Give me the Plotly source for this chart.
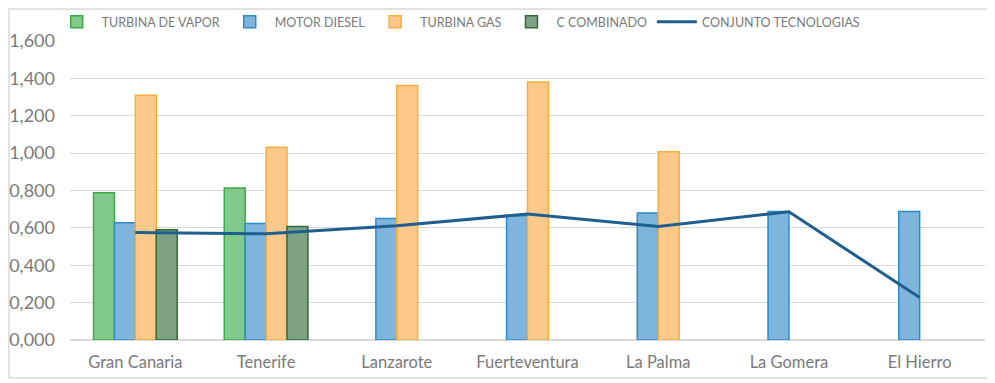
import plotly.graph_objects as go

islands = ["Gran Canaria", "Tenerife", "Lanzarote", "Fuerteventura", "La Palma", "La Gomera", "El Hierro"]
turbina_vapor = [0.788, 0.813, None, None, None, None, None]
motor_diesel = [0.627, 0.624, 0.650, 0.665, 0.679, 0.688, 0.688]
turbina_gas = [1.310, 1.031, 1.362, 1.380, 1.008, None, None]
c_combinado = [0.590, 0.607, None, None, None, None, None]
conjunto = [0.575, 0.568, 0.611, 0.674, 0.608, 0.686, 0.227]
y_ticks = [0, 0.2, 0.4, 0.6, 0.8, 1.0, 1.2, 1.4, 1.6]

W, H = 987, 375
L, R, T, B = 62, 10, 33, 43
PW, PH = W - L - R, H - T - B

fig = go.Figure()
bars = [
    ("TURBINA DE VAPOR", turbina_vapor, "#82c98b", "#3aa948"),
    ("MOTOR DIESEL", motor_diesel, "#7fb4dd", "#2a8ccb"),
    ("TURBINA GAS", turbina_gas, "#fcc98a", "#f8ad3c"),
    ("C COMBINADO", c_combinado, "#7fa284", "#2e6a38"),
]
for name, vals, fill, edge in bars:
    fig.add_trace(go.Bar(x=islands, y=vals, name=name,
                         marker=dict(color=fill, line=dict(color=edge, width=1.5))))
fig.add_trace(go.Scatter(x=islands, y=conjunto, name="CONJUNTO TECNOLOGIAS", mode="lines",
                         line=dict(color="#1f5f8f", width=3)))

fig.update_layout(
    width=W, height=H,
    margin=dict(l=L, r=R, t=T, b=B, autoexpand=False),
    paper_bgcolor="white", plot_bgcolor="white",
    barmode="group", bargap=0.36, bargroupgap=0,
    separators=",.",
    font=dict(family="Lato, Open Sans, sans-serif", color="#6b6b6b"),
    legend=dict(orientation="h", x=-0.02, xanchor="left", y=1 + 19 / PH, yanchor="middle",
                font=dict(size=12.5, color="#7a7a7a"), itemwidth=40, bgcolor="rgba(0,0,0,0)"),
    showlegend=True,
)
fig.update_yaxes(range=[0, 1.6], tickvals=y_ticks, tickformat=".3f", showgrid=True,
                 gridcolor="#d9d9d9", gridwidth=1, zeroline=True, zerolinecolor="#d9d9d9",
                 tickfont=dict(size=18, color="#7a7a7a"), ticklabelstandoff=14, showline=False)
fig.update_xaxes(tickfont=dict(size=16.5, color="#7a7a7a"), showline=False, ticks="",
                 ticklabelstandoff=10)
fig.add_shape(type="rect", xref="paper", yref="paper",
              x0=-(L - 1) / PW, x1=(982 - L) / PW, y0=-(370 - (T + PH)) / PH, y1=1 + (T - 1) / PH,
              line=dict(color="#d9d9d9", width=1.5), fillcolor="rgba(0,0,0,0)", layer="below")
fig.write_html("out.html")
